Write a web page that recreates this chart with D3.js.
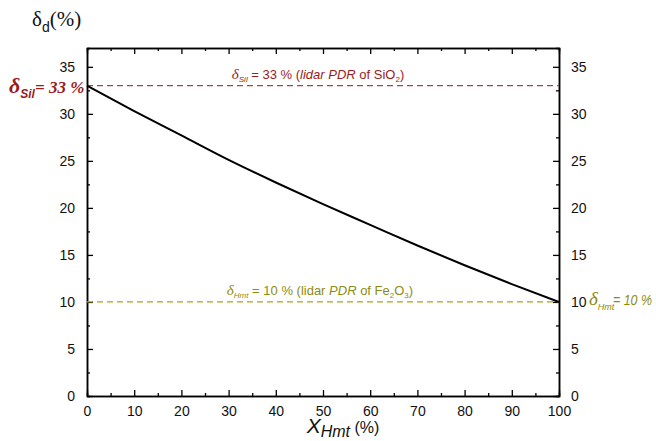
<!DOCTYPE html>
<html>
<head>
<meta charset="utf-8">
<script src="https://cdn.jsdelivr.net/npm/d3@7"></script>
<style>
  body { margin: 0; background: #fff; }
  text { font-family: "Liberation Sans", Arial, sans-serif; }
</style>
</head>
<body>
<div id="chart"></div>
<script>
// data
var xHmt = [0, 10, 20, 30, 40, 50, 60, 70, 80, 90, 100];
var deltaD = [33, 30.3, 27.7, 25.1, 22.7, 20.4, 18.2, 16.0, 13.9, 11.9, 10];
var deltaSil = 33;
var deltaHmt = 10;
var xTicks = [0, 10, 20, 30, 40, 50, 60, 70, 80, 90, 100];
var yTicks = [0, 5, 10, 15, 20, 25, 30, 35];

var width = 656, height = 441;
var margin = { left: 87, right: 97, top: 48, bottom: 45 };
var red = "#9b1c1c", olive = "#8c8c10";

var svg = d3.select("#chart").append("svg")
    .attr("width", width)
    .attr("height", height);

var x = d3.scaleLinear().domain([0, 100]).range([margin.left, width - margin.right]);
var y = d3.scaleLinear().domain([0, 37]).range([height - margin.bottom, margin.top]);

var minorX = d3.range(5, 100, 10);
var minorY = d3.range(2.5, 37, 5);

// axes, ticks pointing inside
svg.append("g").attr("transform", "translate(0," + y(0) + ")")
    .call(d3.axisBottom(x).tickValues(xTicks).tickSizeInner(-6).tickSizeOuter(0).tickPadding(10));
svg.append("g").attr("transform", "translate(0," + y(0) + ")")
    .call(d3.axisBottom(x).tickValues(minorX).tickSize(-3).tickFormat(""));
svg.append("g").attr("transform", "translate(0," + y(37) + ")")
    .call(d3.axisTop(x).tickValues(xTicks).tickSizeInner(-6).tickSizeOuter(0).tickFormat(""));
svg.append("g").attr("transform", "translate(0," + y(37) + ")")
    .call(d3.axisTop(x).tickValues(minorX).tickSize(-3).tickFormat(""));
svg.append("g").attr("transform", "translate(" + x(0) + ",0)")
    .call(d3.axisLeft(y).tickValues(yTicks).tickSizeInner(-6).tickSizeOuter(0).tickPadding(12));
svg.append("g").attr("transform", "translate(" + x(0) + ",0)")
    .call(d3.axisLeft(y).tickValues(minorY).tickSize(-3).tickFormat(""));
svg.append("g").attr("transform", "translate(" + x(100) + ",0)")
    .call(d3.axisRight(y).tickValues(yTicks).tickSizeInner(-6).tickSizeOuter(0).tickPadding(12));
svg.append("g").attr("transform", "translate(" + x(100) + ",0)")
    .call(d3.axisRight(y).tickValues(minorY).tickSize(-3).tickFormat(""));

svg.selectAll(".domain").attr("stroke", "#000").attr("stroke-width", 1.5);
svg.selectAll(".tick line").attr("stroke", "#000").attr("stroke-width", 1.3);
svg.selectAll(".tick text")
    .style("font-family", "'Liberation Sans', Arial, sans-serif")
    .style("font-size", "14px")
    .attr("fill", "#111");

// reference lines
svg.append("line")
    .attr("x1", x(0)).attr("x2", x(100))
    .attr("y1", y(deltaSil)).attr("y2", y(deltaSil))
    .attr("stroke", "#a84448").attr("stroke-width", 1.2)
    .attr("stroke-dasharray", "6,4");
svg.append("line")
    .attr("x1", x(0)).attr("x2", x(100))
    .attr("y1", y(deltaHmt)).attr("y2", y(deltaHmt))
    .attr("stroke", "#a5a520").attr("stroke-width", 1.2)
    .attr("stroke-dasharray", "6,4");

// curve
var line = d3.line()
    .x(function (d, i) { return x(xHmt[i]); })
    .y(function (d) { return y(d); })
    .curve(d3.curveMonotoneX);
svg.append("path")
    .datum(deltaD)
    .attr("d", line)
    .attr("fill", "none")
    .attr("stroke", "#000")
    .attr("stroke-width", 2);

// y axis title
var yt = svg.append("text").attr("x", 32).attr("y", 26)
    .style("font-family", "'Liberation Serif', 'Times New Roman', serif")
    .style("font-size", "21px").attr("fill", "#111");
yt.append("tspan").text("δ");
yt.append("tspan").attr("dy", 6).style("font-family", "'Liberation Sans', Arial, sans-serif").style("font-size", "14px").text("d");
yt.append("tspan").attr("dy", -6).text("(%)");

// x axis title
var xt = svg.append("text").attr("x", 343).attr("y", 433).attr("text-anchor", "middle")
    .attr("fill", "#111");
xt.append("tspan").style("font-style", "italic").style("font-size", "21px").text("X");
xt.append("tspan").attr("dy", 4).style("font-style", "italic").style("font-size", "16px").text("Hmt");
xt.append("tspan").attr("dy", -4).style("font-size", "16px").text(" (%)");

// left label delta Sil
var ls = svg.append("text").attr("x", 9).attr("y", 93).attr("fill", red)
    .style("font-family", "'Liberation Serif', 'Times New Roman', serif")
    .style("font-style", "italic").style("font-weight", "bold").style("font-size", "17px");
ls.append("tspan").style("font-size", "22px").text("δ");
ls.append("tspan").attr("dy", 5).style("font-family", "'Liberation Sans', Arial, sans-serif").style("font-size", "12px").text("Sil");
ls.append("tspan").attr("dy", -5).text("= 33 %");

// right label delta Hmt
var rh = svg.append("text").attr("x", 589).attr("y", 305).attr("fill", olive)
    .style("font-style", "italic").style("font-size", "15px");
rh.append("tspan").style("font-family", "'Liberation Serif', 'Times New Roman', serif").style("font-size", "19px").text("δ");
rh.append("tspan").attr("dy", 5).style("font-size", "9px").text("Hmt");
rh.append("tspan").attr("x", 613).attr("dy", -5).attr("textLength", 39).attr("lengthAdjust", "spacingAndGlyphs").text("= 10 %");

// annotation above red line
var a1 = svg.append("text").attr("x", 318).attr("y", y(deltaSil) - 7).attr("text-anchor", "middle")
    .attr("fill", red).style("font-size", "13px");
a1.append("tspan").style("font-family", "'Liberation Serif', 'Times New Roman', serif").style("font-style", "italic").style("font-size", "15px").text("δ");
a1.append("tspan").attr("dy", 3).style("font-style", "italic").style("font-size", "8px").text("Sil");
a1.append("tspan").attr("dy", -3).text(" = 33 % (");
a1.append("tspan").style("font-style", "italic").text("lidar PDR");
a1.append("tspan").text(" of SiO");
a1.append("tspan").attr("dy", 3).style("font-size", "8px").text("2");
a1.append("tspan").attr("dy", -3).text(")");

// annotation above olive line
var a2 = svg.append("text").attr("x", 320).attr("y", y(deltaHmt) - 7).attr("text-anchor", "middle")
    .attr("fill", olive).style("font-size", "13px");
a2.append("tspan").style("font-family", "'Liberation Serif', 'Times New Roman', serif").style("font-style", "italic").style("font-size", "15px").text("δ");
a2.append("tspan").attr("dy", 3).style("font-style", "italic").style("font-size", "8px").text("Hmt");
a2.append("tspan").attr("dy", -3).text(" = 10 % (lidar ");
a2.append("tspan").style("font-style", "italic").text("PDR");
a2.append("tspan").text(" of Fe");
a2.append("tspan").attr("dy", 3).style("font-size", "8px").text("2");
a2.append("tspan").attr("dy", -3).text("O");
a2.append("tspan").attr("dy", 3).style("font-size", "8px").text("3");
a2.append("tspan").attr("dy", -3).text(")");
</script>
</body>
</html>
